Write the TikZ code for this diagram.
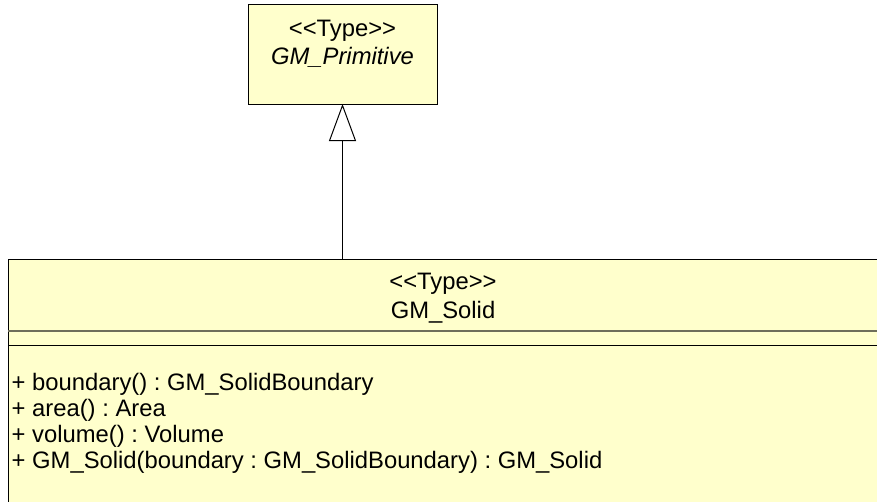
\documentclass[tikz,border=0pt]{standalone}
\usepackage{fontspec}
\setmainfont{Liberation Sans}
\usepackage{tikz}
\usepackage{xcolor}
\usetikzlibrary{arrows.meta}
\frenchspacing
\newcommand{\umlstereo}[1]{<\kern0pt<#1>\kern0pt>}
\definecolor{uml_fill}{HTML}{FFFFCC}
\definecolor{uml_sep}{RGB}{110,110,90}
\tikzset{
    classbox/.style={draw=black,fill=uml_fill,line width=1pt,inner sep=0pt,outer sep=0pt},
    umltext/.style={inner sep=0pt,anchor=base,font=\fontsize{23.8pt}{26pt}\selectfont},
    optext/.style={umltext,anchor=base west},
    generalize/.style={-{Triangle[open,length=37pt,width=27pt,fill=white]},line width=1pt},
}

\begin{document}
\begin{tikzpicture}[x=1pt,y=-1pt]
  \clip (0,0) rectangle (877,501);
  % boxes
  \node[classbox,minimum width=189pt,minimum height=100pt] (prim) at (342.5,54) {};
  \node[classbox,minimum width=870pt,minimum height=261pt] (solid) at (443,389.5) {};
  \draw[uml_sep,line width=1.6pt] (solid.west |- 0,331) -- (solid.east |- 0,331);
  \draw[black,line width=1pt] (solid.west |- 0,345) -- (solid.east |- 0,345);
  % texts
  \node[umltext] (prim_st) at (342.5,36) {\umlstereo{Type}};
  \node[umltext,font=\fontsize{23.8pt}{26pt}\selectfont\itshape] (prim_name) at (342.5,64) {GM\_Primitive};
  \node[umltext] (solid_st) at (443,289) {\umlstereo{Type}};
  \node[umltext] (solid_name) at (443,318) {GM\_Solid};
  \node[optext] (op1) at (11.5,390) {+ boundary() : GM\_SolidBoundary};
  \node[optext] (op2) at (11.5,416) {+ area() : Area};
  \node[optext] (op3) at (11.5,442) {+ volume() : Volume};
  \node[optext] (op4) at (11.5,468) {+ GM\_Solid(boundary : GM\_SolidBoundary) : GM\_Solid};
  % inheritance
  \draw[generalize] (solid.north -| prim.south) -- (prim.south);
\end{tikzpicture}
\end{document}
